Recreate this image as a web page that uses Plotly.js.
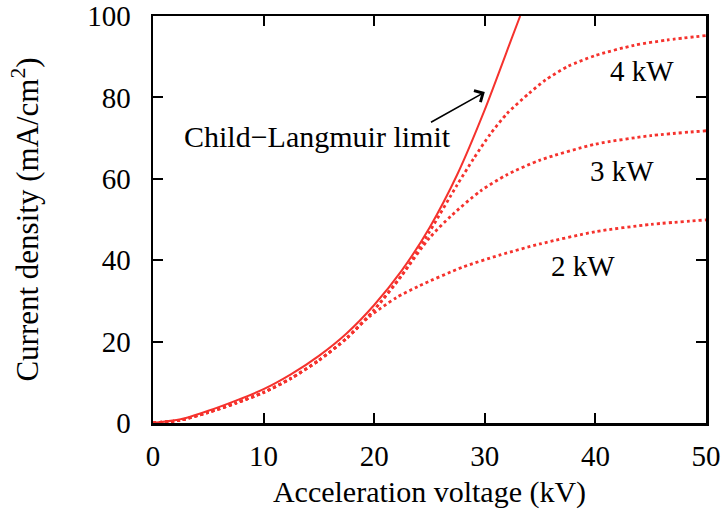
<!DOCTYPE html>
<html>
<head>
<meta charset="utf-8">
<script src="https://cdn.plot.ly/plotly-3.0.1.min.js"></script>
<style>html,body{margin:0;padding:0;background:#fff;}#chart{width:725px;height:518px;}</style>
</head>
<body>
<div id="chart"></div>
<script>
// Child-Langmuir limit (solid)
const clV = [0, 2.5, 5, 7.5, 10, 12.5, 15, 17.5, 20, 22.5, 25, 27.5, 30, 32.5, 33.2];
const clJ = [0, 0.9, 3.0, 5.5, 8.3, 12, 16.5, 22, 29, 37.5, 48, 61, 77, 95, 100];

// 4 kW (dotted)
const p4V = [0, 2.5, 5, 7.5, 10, 12.5, 15, 17.5, 20, 22.5, 25, 27.5, 29, 30.5, 32, 34, 35.5, 37.5, 40, 43.5, 46.5, 50];
const p4J = [0, 0.7, 2.6, 4.9, 7.5, 11, 15.4, 20.8, 27.8, 36.3, 47, 58.5, 65, 71, 76, 81, 84.3, 87.6, 90.3, 92.8, 94.1, 95.2];

// 3 kW (dotted)
const p3V = [0, 2.5, 5, 7.5, 10, 12.5, 15, 17.5, 20, 22.5, 25, 27, 29.6, 32, 35, 40, 45, 50];
const p3J = [0, 0.7, 2.6, 4.9, 7.5, 11, 15.4, 20.8, 27.8, 36.3, 45.5, 51, 57, 61, 64.6, 68.5, 70.6, 71.8];

// 2 kW (dotted)
const p2V = [0, 2.5, 5, 7.5, 10, 12.5, 15, 17.5, 19.5, 22, 24, 28, 31.4, 35, 40, 45, 50];
const p2J = [0, 0.7, 2.6, 4.9, 7.5, 11, 15.4, 20.8, 26, 30.8, 33.6, 38.3, 41.3, 44, 47, 48.8, 49.9];

const xTicks = [0, 10, 20, 30, 40, 50];
const yTicks = [0, 20, 40, 60, 80, 100];

const red = 'rgb(245,50,45)';
const serif = 'Liberation Serif, Times New Roman, serif';

const dotLine = {color: red, width: 2.8, dash: 'dot', shape: 'spline', smoothing: 0.7};

const traces = [
  {x: p2V, y: p2J, mode: 'lines', line: dotLine, name: '2 kW', hoverinfo: 'skip'},
  {x: p3V, y: p3J, mode: 'lines', line: dotLine, name: '3 kW', hoverinfo: 'skip'},
  {x: p4V, y: p4J, mode: 'lines', line: dotLine, name: '4 kW', hoverinfo: 'skip'},
  {x: clV, y: clJ, mode: 'lines', line: {color: red, width: 2, shape: 'spline', smoothing: 0.7}, name: 'Child-Langmuir limit', hoverinfo: 'skip'}
];

const axisCommon = {
  showgrid: false, zeroline: false,
  showline: true, linecolor: '#000', linewidth: 2.5, mirror: 'ticks',
  ticks: 'inside', ticklen: 10, tickwidth: 2, tickcolor: '#000',
  tickfont: {family: serif, size: 29, color: '#000'}
};

const layout = {
  width: 725, height: 518,
  margin: {l: 153, r: 19, t: 16, b: 95},
  paper_bgcolor: '#fff', plot_bgcolor: '#fff',
  showlegend: false,
  xaxis: Object.assign({}, axisCommon, {
    range: [0, 50], tickvals: xTicks, ticktext: xTicks.map(String),
    ticklabelstandoff: 6,
    title: {text: 'Acceleration voltage (kV)', font: {family: serif, size: 30, color: '#000'}, standoff: 10}
  }),
  yaxis: Object.assign({}, axisCommon, {
    range: [0, 100], tickvals: yTicks, ticktext: yTicks.map(String),
    ticklabelstandoff: 14,
    title: {text: 'Current density (mA/cm<sup>2</sup>)', font: {family: serif, size: 31, color: '#000'}, standoff: 40}
  }),
  annotations: [
    {x: 30.0, y: 81.3, ax: 25.0, ay: 73.7, axref: 'x', ayref: 'y', xref: 'x', yref: 'y',
     text: '', showarrow: true, arrowhead: 4, arrowsize: 1.6, arrowwidth: 1.6, arrowcolor: '#000'},
    {x: 14.9, y: 70.4, xref: 'x', yref: 'y', text: 'Child\u2212Langmuir limit', showarrow: false,
     font: {family: serif, size: 30, color: '#000'}},
    {x: 44.2, y: 86.5, xref: 'x', yref: 'y', text: '4 kW', showarrow: false,
     font: {family: serif, size: 29, color: '#000'}},
    {x: 42.4, y: 61.9, xref: 'x', yref: 'y', text: '3 kW', showarrow: false,
     font: {family: serif, size: 29, color: '#000'}},
    {x: 38.9, y: 38.6, xref: 'x', yref: 'y', text: '2 kW', showarrow: false,
     font: {family: serif, size: 29, color: '#000'}}
  ]
};

Plotly.newPlot('chart', traces, layout, {displayModeBar: false, staticPlot: true});
</script>
</body>
</html>
